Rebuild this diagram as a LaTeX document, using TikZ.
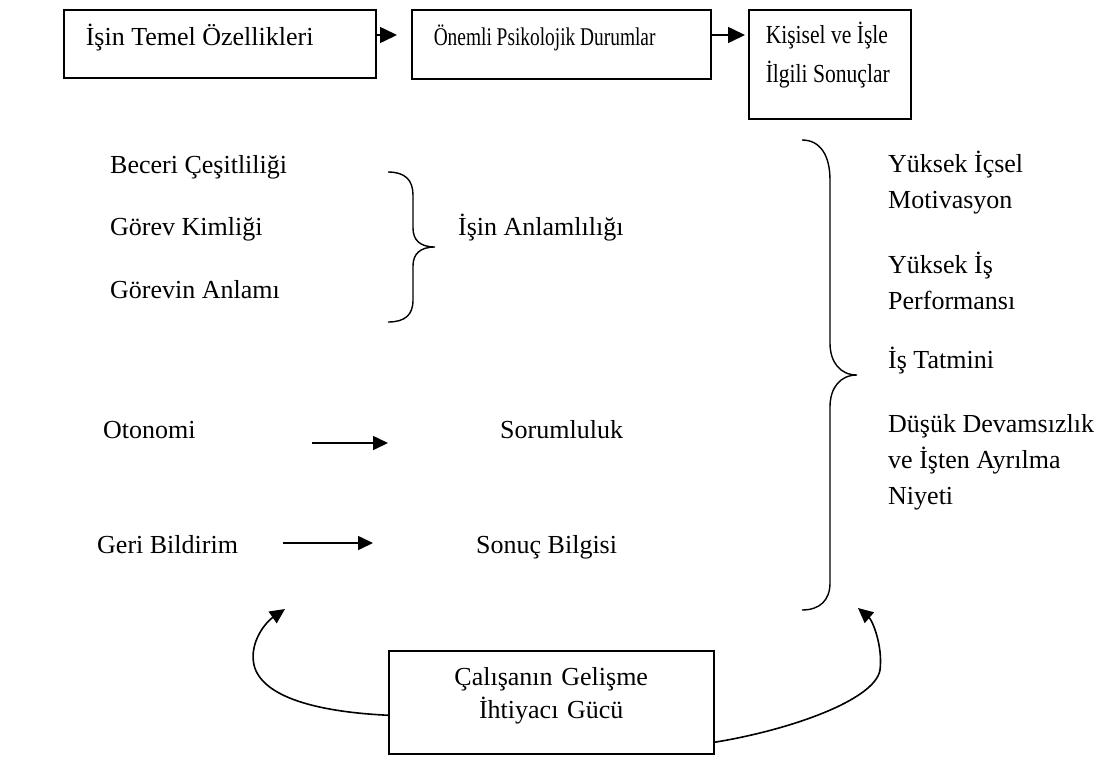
\documentclass[tikz,border=0pt]{standalone}
\usepackage{fontspec}
\setmainfont{Liberation Serif}
\newfontfamily\darfont[FakeStretch=0.76]{Liberation Serif}
\newfontfamily\ortafont[FakeStretch=0.83]{Liberation Serif}
\usetikzlibrary{positioning, arrows.meta}

\tikzset{
    kutu/.style={draw, line width=1.5pt, anchor=north west, inner ysep=0pt, align=flush left},
    yazi/.style={anchor=base west, inner sep=0pt, align=flush left},
    ok/.style={line width=1.6pt, -{Triangle[length=15pt, width=14pt]}},
    buyukok/.style={line width=1.6pt, -{Triangle[length=17pt, width=16pt]}},
    parantez/.style={line width=1.4pt}
}

\begin{document}
\begin{tikzpicture}[x=1pt, y=-1pt, font=\fontsize{26}{36}\selectfont]
    \useasboundingbox (0,0) rectangle (1112,756);

    % ust kutular
    \node[kutu, inner xsep=22pt, text width=268pt, text height=36pt, text depth=32pt] (ozellik) at (63,9) {İşin Temel Özellikleri};
    \node[kutu, font=\darfont\fontsize{25.5}{39}\selectfont, inner xsep=22pt, text width=255pt, text height=36pt, text depth=33pt] (durum) at (411,9) {Önemli Psikolojik Durumlar};
    \node[kutu, font=\ortafont\fontsize{26}{39}\selectfont, inner xsep=17pt, text width=128pt, text height=34pt, text depth=75pt] (sonuclar) at (748,9) {Kişisel ve İşle\\İlgili Sonuçlar};
    \draw[buyukok, shorten >=14pt] ([yshift=-26pt]ozellik.north east) -- ([yshift=-26pt]durum.north west);
    \draw[buyukok, shorten >=3pt] ([yshift=-26pt]durum.north east) -- ([yshift=-26pt]sonuclar.north west);

    % is ozellikleri
    \node[yazi] (beceri) at (110,173) {Beceri Çeşitliliği};
    \node[yazi] (kimlik) at (110,235) {Görev Kimliği};
    \node[yazi] (anlam) at (110,298) {Görevin Anlamı};
    \node[yazi] (anlamlilik) at (458,235) {İşin Anlamlılığı};
    \node[yazi] (otonomi) at (103,438) {Otonomi};
    \node[yazi] (sorumluluk) at (500,438) {Sorumluluk};
    \node[yazi] (geri) at (97,553) {Geri Bildirim};
    \node[yazi] (bilgi) at (476,553) {Sonuç Bilgisi};
    \draw[ok, shorten <=116pt, shorten >=112pt] ([yshift=-5pt]otonomi.base east) -- ([yshift=-5pt]sorumluluk.base west);
    \draw[ok, shorten <=45pt, shorten >=103pt] ([yshift=10pt]geri.base east) -- ([yshift=10pt]bilgi.base west);

    % parantezler
    \draw[parantez] (388,172) .. controls (405,172) and (413,180) .. (413,195) -- (413,228) .. controls (413,240) and (420,247) .. (435,247)
        .. controls (420,247) and (413,254) .. (413,266) -- (413,300) .. controls (413,315) and (405,322) .. (388,322);
    \draw[parantez] (802,140) .. controls (820,140) and (830,155) .. (830,180) -- (830,343) .. controls (830,362) and (840,375) .. (857,375)
        .. controls (840,375) and (830,388) .. (830,407) -- (830,583) .. controls (830,600) and (820,610) .. (802,610);

    % sonuclar
    \node[yazi, text width=220pt] (motivasyon) at (888,172) {Yüksek İçsel\\Motivasyon};
    \node[yazi, text width=220pt] (performans) at (888,273) {Yüksek İş\\Performansı};
    \node[yazi] (tatmin) at (888,368) {İş Tatmini};
    \node[yazi, text width=220pt] (devam) at (888,432) {Düşük Devamsızlık\\ve İşten Ayrılma\\Niyeti};

    % gelisme ihtiyaci
    \node[kutu, inner xsep=0pt, text width=325pt, align=center, text height=35pt, text depth=68pt] (gelisme) at (388,650) {Çalışanın Gelişme\\[-3pt]İhtiyacı Gücü};
    \coordinate (sol) at (285,609);
    \coordinate (sag) at (858,608);
    \draw[ok] ([yshift=-13pt]gelisme.west) .. controls (320,712) and (262,698) .. (254,665) .. controls (249,642) and (266,622) .. (sol);
    \draw[ok] ([yshift=-40pt]gelisme.east) .. controls (790,730) and (875,700) .. (880,670) .. controls (883,645) and (872,620) .. (sag);
\end{tikzpicture}
\end{document}
